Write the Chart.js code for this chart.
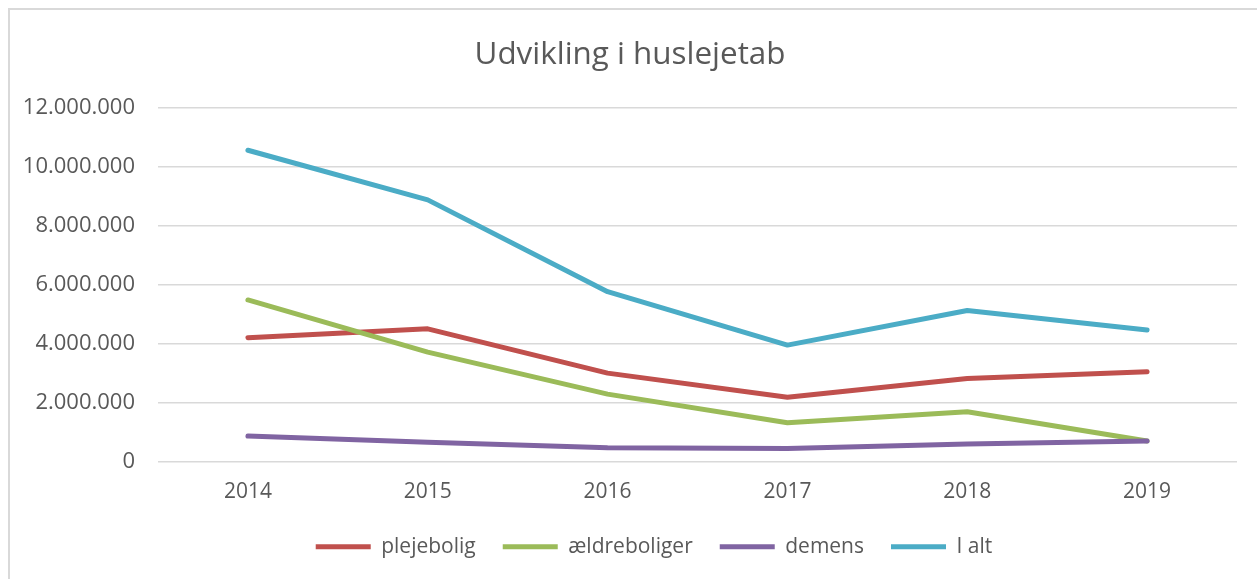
<!DOCTYPE html>
<html>
<head>
<meta charset="utf-8">
<script src="https://cdn.jsdelivr.net/npm/chart.js@4"></script>
<style>
  html, body { margin: 0; padding: 0; background: #ffffff; }
  #wrap { width: 1257px; height: 579px; position: relative; }
</style>
</head>
<body>
<div id="wrap"><canvas id="c" width="1257" height="579"></canvas></div>
<script>
const years = ['2014', '2015', '2016', '2017', '2018', '2019'];
const plejebolig = [4200000, 4500000, 3000000, 2180000, 2820000, 3050000];
const aeldreboliger = [5480000, 3710000, 2290000, 1320000, 1690000, 700000];
const demens = [870000, 660000, 470000, 450000, 600000, 700000];
const iAlt = [10550000, 8870000, 5760000, 3950000, 5120000, 4460000];
const seriesNames = ['plejebolig', 'ældreboliger', 'demens', 'I alt'];
const seriesColors = ['#C0504D', '#9BBB59', '#8064A2', '#4BACC6'];
const yTicks = { min: 0, max: 12000000, step: 2000000 };
const titleText = 'Udvikling i huslejetab';

const FONT = "'Open Sans', 'DejaVu Sans', sans-serif";
const TXT = '#595959';

function fmt(v) {
  return String(Math.round(v)).replace(/\B(?=(\d{3})+(?!\d))/g, '.');
}

const borderPlugin = {
  id: 'outerBorder',
  afterLayout(chart) {
    // legend in the reference sits slightly right of centre
    if (chart.legend) {
      chart.legend.left += 24;
      chart.legend.right += 24;
    }
  },
  beforeDraw(chart) {
    const ctx = chart.ctx;
    ctx.save();
    ctx.strokeStyle = '#d9d9d9';
    ctx.lineWidth = 2;
    ctx.beginPath();
    ctx.moveTo(9, chart.height + 2);
    ctx.lineTo(9, 9);
    ctx.lineTo(chart.width + 2, 9);
    ctx.stroke();
    ctx.restore();
  }
};

const allData = [plejebolig, aeldreboliger, demens, iAlt];

new Chart(document.getElementById('c'), {
  type: 'line',
  data: {
    labels: years,
    datasets: allData.map((d, i) => ({
      label: seriesNames[i],
      data: d,
      yAxisID: 'y',
      borderColor: seriesColors[i],
      backgroundColor: seriesColors[i],
      borderWidth: 5,
      pointRadius: 0,
      pointHoverRadius: 0,
      tension: 0,
      fill: false,
      borderCapStyle: 'round',
      borderJoinStyle: 'round',
      pointStyle: 'line',
      order: allData.length - i
    }))
  },
  options: {
    responsive: false,
    animation: false,
    devicePixelRatio: 1,
    layout: { padding: { left: 3, right: 0, top: 0, bottom: 11.8 } },
    plugins: {
      title: {
        display: true,
        text: titleText,
        color: TXT,
        font: { family: FONT, size: 31.4, weight: 'normal', lineHeight: 1.2 },
        padding: { top: 36, bottom: 33.8 }
      },
      legend: {
        display: true,
        position: 'bottom',
        labels: {
          color: TXT,
          font: { family: FONT, size: 21 },
          usePointStyle: true,
          pointStyleWidth: 55,
          boxHeight: 21,
          padding: 27,
          sort: (a, b) => a.datasetIndex - b.datasetIndex
        }
      },
      tooltip: { enabled: false }
    },
    scales: {
      x: {
        offset: true,
        afterFit(scale) { scale.height = 47.5; },
        grid: { display: false, drawTicks: false, offset: true },
        border: { display: false },
        ticks: {
          color: TXT,
          font: { family: FONT, size: 21 },
          padding: 18
        }
      },
      y: {
        min: yTicks.min,
        max: yTicks.max,
        afterFit(scale) { scale.width = 155; },
        grid: { color: '#d9d9d9', lineWidth: 1.5, drawTicks: false },
        border: { display: false },
        ticks: {
          stepSize: yTicks.step,
          color: TXT,
          font: { family: FONT, size: 22 },
          padding: 23,
          callback: (v) => fmt(v)
        }
      },
      yRight: {
        type: 'linear',
        position: 'right',
        display: true,
        afterFit(scale) { scale.width = 20; },
        grid: { display: false, drawTicks: false },
        border: { display: false },
        ticks: { display: false }
      }
    }
  },
  plugins: [borderPlugin]
});
</script>
</body>
</html>
